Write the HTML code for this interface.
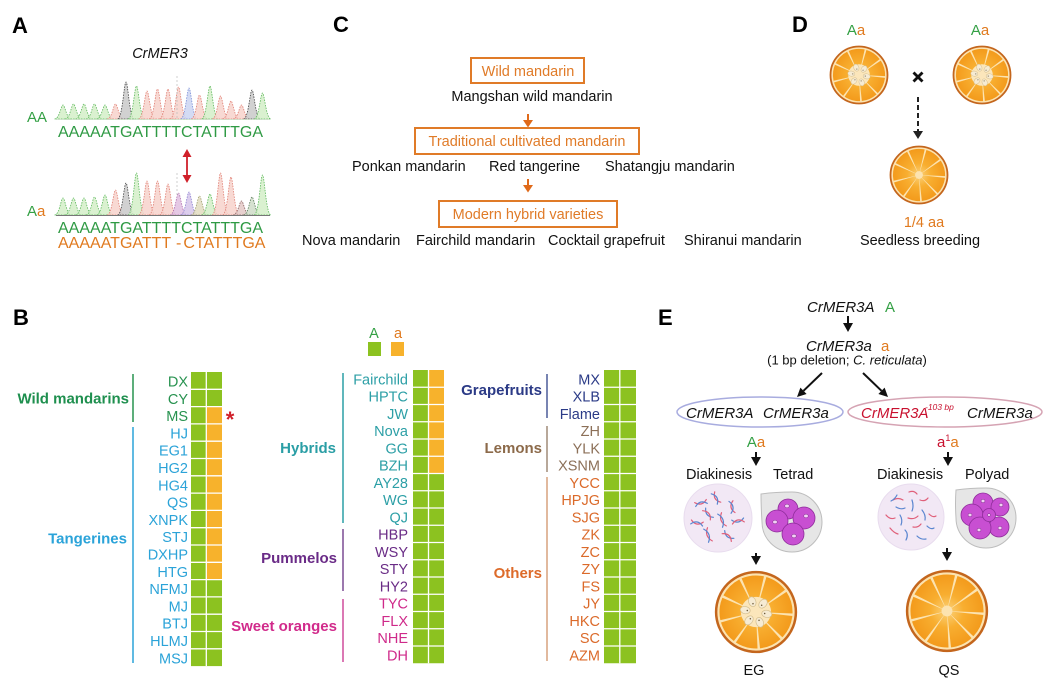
<!DOCTYPE html>
<html><head><meta charset="utf-8">
<style>
html,body{margin:0;padding:0;background:#fff;}
svg{display:block;font-family:"Liberation Sans",Arial,sans-serif;}
</style></head><body>
<svg width="1052" height="687" viewBox="0 0 1052 687" xmlns="http://www.w3.org/2000/svg">
<defs>
 <radialGradient id="wg" gradientUnits="userSpaceOnUse" cx="0" cy="0" r="44">
  <stop offset="0" stop-color="#fbd37c"/>
  <stop offset="0.45" stop-color="#f8ae30"/>
  <stop offset="1" stop-color="#f39a1b"/>
 </radialGradient>
 <symbol id="orn" viewBox="-50 -50 100 100">
  <circle r="47.5" fill="#fce3b0" stroke="#c4661d" stroke-width="3"/>
  <circle r="25" fill="none" stroke="url(#wg)" stroke-width="37" pathLength="360" stroke-dasharray="36 4" transform="rotate(8)"/>
  <circle r="4" fill="#fce3b0"/>
 </symbol>
 <symbol id="ors" viewBox="-50 -50 100 100">
  <circle r="47.5" fill="#fce3b0" stroke="#c4661d" stroke-width="3"/>
  <circle r="25" fill="none" stroke="url(#wg)" stroke-width="37" pathLength="360" stroke-dasharray="36 4" transform="rotate(8)"/>
  <circle r="18" fill="#fbe6bb"/>
  <g fill="#f6ebd3" stroke="#d3bd8c" stroke-width="0.8">
   <ellipse rx="6" ry="4.3" transform="rotate(10) translate(13 0)"/>
   <ellipse rx="6" ry="4.3" transform="rotate(70) translate(13 0)"/>
   <ellipse rx="6" ry="4.3" transform="rotate(130) translate(13 0)"/>
   <ellipse rx="6" ry="4.3" transform="rotate(190) translate(13 0)"/>
   <ellipse rx="6" ry="4.3" transform="rotate(250) translate(13 0)"/>
   <ellipse rx="6" ry="4.3" transform="rotate(310) translate(13 0)"/>
  </g>
  <g fill="#6b5a3a">
   <circle r="0.9" transform="rotate(10) translate(10.5 0)"/>
   <circle r="0.9" transform="rotate(70) translate(10.5 0)"/>
   <circle r="0.9" transform="rotate(130) translate(10.5 0)"/>
   <circle r="0.9" transform="rotate(190) translate(10.5 0)"/>
   <circle r="0.9" transform="rotate(250) translate(10.5 0)"/>
   <circle r="0.9" transform="rotate(310) translate(10.5 0)"/>
  </g>
 </symbol>
</defs>

<!-- ================= Panel A ================= -->
<text x="12" y="33" font-size="22" font-weight="bold" fill="#000">A</text>
<text x="160" y="58" font-size="14.5" font-style="italic" text-anchor="middle" fill="#111">CrMER3</text>

<!-- top chromatogram -->
<g stroke-width="0.8" stroke-dasharray="1.5 1.2" fill-opacity="0.85">
<path d="M54.5,119 C59.5,119 61,105 63,105 C65,105 66.5,119 71.5,119Z" fill="#d4efc8" stroke="#5cb85c"/>
<path d="M65,119 C70,119 71.5,104 73.5,104 C75.5,104 77,119 82,119Z" fill="#d4efc8" stroke="#5cb85c"/>
<path d="M75.5,119 C80.5,119 82,104 84,104 C86,104 87.5,119 92.5,119Z" fill="#d4efc8" stroke="#5cb85c"/>
<path d="M86,119 C91,119 92.5,104 94.5,104 C96.5,104 98,119 103,119Z" fill="#d4efc8" stroke="#5cb85c"/>
<path d="M96.5,119 C101.5,119 103,105 105,105 C107,105 108.5,119 113.5,119Z" fill="#d4efc8" stroke="#5cb85c"/>
<path d="M107,119 C112,119 113.5,104 115.5,104 C117.5,104 119,119 124,119Z" fill="#f7d2cb" stroke="#e07f74"/>
<path d="M117.5,119 C122.5,119 124,82 126,82 C128,82 129.5,119 134.5,119Z" fill="#c9c9c9" stroke="#444"/>
<path d="M128,119 C133,119 134.5,86 136.5,86 C138.5,86 140,119 145,119Z" fill="#d4efc8" stroke="#5cb85c"/>
<path d="M138.5,119 C143.5,119 145,91 147,91 C149,91 150.5,119 155.5,119Z" fill="#f7d2cb" stroke="#e07f74"/>
<path d="M149,119 C154,119 155.5,89 157.5,89 C159.5,89 161,119 166,119Z" fill="#f7d2cb" stroke="#e07f74"/>
<path d="M159.5,119 C164.5,119 166,89 168,89 C170,89 171.5,119 176.5,119Z" fill="#f7d2cb" stroke="#e07f74"/>
<path d="M170,119 C175,119 176.5,87 178.5,87 C180.5,87 182,119 187,119Z" fill="#f7d2cb" stroke="#e07f74"/>
<path d="M180.5,119 C185.5,119 187,88 189,88 C191,88 192.5,119 197.5,119Z" fill="#cbd5f2" stroke="#7b8fd6"/>
<path d="M191,119 C196,119 197.5,95 199.5,95 C201.5,95 203,119 208,119Z" fill="#f7d2cb" stroke="#e07f74"/>
<path d="M201.5,119 C206.5,119 208,86 210,86 C212,86 213.5,119 218.5,119Z" fill="#d4efc8" stroke="#5cb85c"/>
<path d="M212,119 C217,119 218.5,96 220.5,96 C222.5,96 224,119 229,119Z" fill="#f7d2cb" stroke="#e07f74"/>
<path d="M222.5,119 C227.5,119 229,101 231,101 C233,101 234.5,119 239.5,119Z" fill="#f7d2cb" stroke="#e07f74"/>
<path d="M233,119 C238,119 239.5,105 241.5,105 C243.5,105 245,119 250,119Z" fill="#f7d2cb" stroke="#e07f74"/>
<path d="M243.5,119 C248.5,119 250,90 252,90 C254,90 255.5,119 260.5,119Z" fill="#c9c9c9" stroke="#444"/>
<path d="M254,119 C259,119 260.5,93 262.5,93 C264.5,93 266,119 271,119Z" fill="#d4efc8" stroke="#5cb85c"/>
</g>
<line x1="177" y1="76" x2="177" y2="118" stroke="#bbb" stroke-width="0.7" stroke-dasharray="2 2"/>
<line x1="56" y1="119.5" x2="270" y2="119.5" stroke="#c9dfc4" stroke-width="0.8"/>
<text x="27" y="122" font-size="15" fill="#34a045">AA</text>
<text x="58" y="137" font-size="16" fill="#2f9a44">AAAAATGATTTTCTATTTGA</text>

<!-- red arrow -->
<line x1="187" y1="155" x2="187" y2="177" stroke="#d0202a" stroke-width="1.8"/>
<polygon points="182.5,157 191.5,157 187,149" fill="#d0202a"/>
<polygon points="182.5,175 191.5,175 187,183" fill="#d0202a"/>

<!-- bottom chromatogram -->
<g stroke-width="0.8" stroke-dasharray="1.5 1.2" fill-opacity="0.85">
<path d="M54.5,215 C59.5,215 61,198 63,198 C65,198 66.5,215 71.5,215Z" fill="#d4efc8" stroke="#5cb85c"/>
<path d="M65,215 C70,215 71.5,198 73.5,198 C75.5,198 77,215 82,215Z" fill="#d4efc8" stroke="#5cb85c"/>
<path d="M75.5,215 C80.5,215 82,198 84,198 C86,198 87.5,215 92.5,215Z" fill="#d4efc8" stroke="#5cb85c"/>
<path d="M86,215 C91,215 92.5,197 94.5,197 C96.5,197 98,215 103,215Z" fill="#d4efc8" stroke="#5cb85c"/>
<path d="M96.5,215 C101.5,215 103,195 105,195 C107,195 108.5,215 113.5,215Z" fill="#d4efc8" stroke="#5cb85c"/>
<path d="M107,215 C112,215 113.5,190 115.5,190 C117.5,190 119,215 124,215Z" fill="#f7d2cb" stroke="#e07f74"/>
<path d="M117.5,215 C122.5,215 124,183 126,183 C128,183 129.5,215 134.5,215Z" fill="#c9c9c9" stroke="#444"/>
<path d="M128,215 C133,215 134.5,173 136.5,173 C138.5,173 140,215 145,215Z" fill="#d4efc8" stroke="#5cb85c"/>
<path d="M138.5,215 C143.5,215 145,181 147,181 C149,181 150.5,215 155.5,215Z" fill="#f7d2cb" stroke="#e07f74"/>
<path d="M149,215 C154,215 155.5,181 157.5,181 C159.5,181 161,215 166,215Z" fill="#f7d2cb" stroke="#e07f74"/>
<path d="M159.5,215 C164.5,215 166,184 168,184 C170,184 171.5,215 176.5,215Z" fill="#f7d2cb" stroke="#e07f74"/>
<path d="M170,215 C175,215 176.5,193 178.5,193 C180.5,193 182,215 187,215Z" fill="#e0c0e0" stroke="#b070b0"/>
<path d="M180.5,215 C185.5,215 187,192 189,192 C191,192 192.5,215 197.5,215Z" fill="#d6c6ea" stroke="#8a7fd0"/>
<path d="M191,215 C196,215 197.5,196 199.5,196 C201.5,196 203,215 208,215Z" fill="#e2dcc0" stroke="#a0a070"/>
<path d="M201.5,215 C206.5,215 208,194 210,194 C212,194 213.5,215 218.5,215Z" fill="#d4efc8" stroke="#5cb85c"/>
<path d="M212,215 C217,215 218.5,173 220.5,173 C222.5,173 224,215 229,215Z" fill="#f7d2cb" stroke="#e07f74"/>
<path d="M222.5,215 C227.5,215 229,177 231,177 C233,177 234.5,215 239.5,215Z" fill="#f7d2cb" stroke="#e07f74"/>
<path d="M233,215 C238,215 239.5,201 241.5,201 C243.5,201 245,215 250,215Z" fill="#e3c8c6" stroke="#8a6060"/>
<path d="M243.5,215 C248.5,215 250,197 252,197 C254,197 255.5,215 260.5,215Z" fill="#cfdcc8" stroke="#557755"/>
<path d="M254,215 C259,215 260.5,175 262.5,175 C264.5,175 266,215 271,215Z" fill="#d4efc8" stroke="#5cb85c"/>
</g>
<line x1="177" y1="173" x2="177" y2="197" stroke="#bbb" stroke-width="0.7" stroke-dasharray="2 2"/>
<line x1="56" y1="215.5" x2="270" y2="215.5" stroke="#777" stroke-width="1"/>
<text x="27" y="216" font-size="15"><tspan fill="#34a045">A</tspan><tspan fill="#e07a1f">a</tspan></text>
<text x="58" y="233" font-size="16" fill="#2f9a44">AAAAATGATTTTCTATTTGA</text>
<text x="58" y="248" font-size="16" fill="#e07a1f">AAAAATGATTT</text>
<text x="176" y="248" font-size="16" fill="#e07a1f">-</text>
<text x="183.4" y="248" font-size="16" fill="#e07a1f">CTATTTGA</text>

<!-- ================= Panel C ================= -->
<text x="333" y="32" font-size="22" font-weight="bold" fill="#000">C</text>
<rect x="471" y="58" width="113" height="25" fill="none" stroke="#e07b28" stroke-width="2"/>
<text x="528" y="76" font-size="14.5" text-anchor="middle" fill="#e07b28">Wild mandarin</text>
<text x="532" y="101" font-size="14.5" text-anchor="middle" fill="#111">Mangshan wild mandarin</text>
<line x1="528" y1="114" x2="528" y2="121" stroke="#e06a1a" stroke-width="2"/>
<polygon points="523,120 533,120 528,127.5" fill="#e06a1a"/>
<rect x="415" y="128" width="224" height="26" fill="none" stroke="#e07b28" stroke-width="2"/>
<text x="527" y="146" font-size="14.5" text-anchor="middle" fill="#e07b28">Traditional cultivated mandarin</text>
<text x="352" y="171" font-size="14.5" fill="#111">Ponkan mandarin</text>
<text x="489" y="171" font-size="14.5" fill="#111">Red tangerine</text>
<text x="605" y="171" font-size="14.5" fill="#111">Shatangju mandarin</text>
<line x1="528" y1="179" x2="528" y2="186" stroke="#e06a1a" stroke-width="2"/>
<polygon points="523,185 533,185 528,192.5" fill="#e06a1a"/>
<rect x="439" y="201" width="178" height="26" fill="none" stroke="#e07b28" stroke-width="2"/>
<text x="528" y="219" font-size="14.5" text-anchor="middle" fill="#e07b28">Modern hybrid varieties</text>
<text x="302" y="245" font-size="14.5" fill="#111">Nova mandarin</text>
<text x="416" y="245" font-size="14.5" fill="#111">Fairchild mandarin</text>
<text x="548" y="245" font-size="14.5" fill="#111">Cocktail grapefruit</text>
<text x="684" y="245" font-size="14.5" fill="#111">Shiranui mandarin</text>

<!-- ================= Panel D ================= -->
<text x="792" y="32" font-size="22" font-weight="bold" fill="#000">D</text>
<text x="856" y="35" font-size="15" text-anchor="middle"><tspan fill="#34a045">A</tspan><tspan fill="#e07a1f">a</tspan></text>
<text x="980" y="35" font-size="15" text-anchor="middle"><tspan fill="#34a045">A</tspan><tspan fill="#e07a1f">a</tspan></text>
<use href="#ors" x="829" y="45" width="60" height="60"/>
<use href="#ors" x="952" y="45" width="60" height="60"/>
<line x1="913.5" y1="72.5" x2="922.5" y2="81.5" stroke="#111" stroke-width="2.8"/>
<line x1="922.5" y1="72.5" x2="913.5" y2="81.5" stroke="#111" stroke-width="2.8"/>
<line x1="918" y1="97" x2="918" y2="132" stroke="#222" stroke-width="2" stroke-dasharray="5 3"/>
<polygon points="913,131 923,131 918,139" fill="#222"/>
<use href="#orn" x="889" y="145" width="60" height="60"/>
<text x="924" y="227" font-size="14.5" text-anchor="middle" fill="#e07a1f">1/4 aa</text>
<text x="920" y="245" font-size="14.5" text-anchor="middle" fill="#111">Seedless breeding</text>

<!-- ================= Panel B ================= -->
<text x="13" y="325" font-size="22" font-weight="bold" fill="#000">B</text>

<!-- legend -->
<text x="374" y="338" font-size="14.5" text-anchor="middle" fill="#34a045">A</text>
<text x="398" y="338" font-size="14.5" text-anchor="middle" fill="#e07a1f">a</text>
<rect x="368" y="342" width="13" height="14" fill="#8cc220"/>
<rect x="391" y="342" width="13" height="14" fill="#f7b22c"/>

<!-- left grid -->
<rect x="191" y="372" width="31" height="294.1" fill="#8cc220"/>
<rect x="206.5" y="406.6" width="15.5" height="173" fill="#f7b22c"/>
<path d="M191,389.3H222M191,406.6H222M191,423.9H222M191,441.2H222M191,458.5H222M191,475.8H222M191,493.1H222M191,510.4H222M191,527.7H222M191,545H222M191,562.3H222M191,579.6H222M191,596.9H222M191,614.2H222M191,631.5H222M191,648.8H222M206.3,372V666.1" stroke="#fff" stroke-width="1.3" fill="none"/>

<!-- middle grid -->
<rect x="413" y="370" width="31" height="293.25" fill="#8cc220"/>
<rect x="428.6" y="370" width="15.4" height="103.5" fill="#f7b22c"/>
<path d="M413,387.25H444M413,404.5H444M413,421.75H444M413,439H444M413,456.25H444M413,473.5H444M413,490.75H444M413,508H444M413,525.25H444M413,542.5H444M413,559.75H444M413,577H444M413,594.25H444M413,611.5H444M413,628.75H444M413,646H444M428.5,370V663.25" stroke="#fff" stroke-width="1.3" fill="none"/>

<!-- right grid -->
<rect x="604" y="370" width="32" height="293.25" fill="#8cc220"/>
<path d="M604,387.25H636M604,404.5H636M604,421.75H636M604,439H636M604,456.25H636M604,473.5H636M604,490.75H636M604,508H636M604,525.25H636M604,542.5H636M604,559.75H636M604,577H636M604,594.25H636M604,611.5H636M604,628.75H636M604,646H636M619.8,370V663.25" stroke="#fff" stroke-width="1.3" fill="none"/>

<!-- left labels -->
<g font-size="14.5" text-anchor="end">
<g fill="#27924f">
<text x="188" y="386.5">DX</text>
<text x="188" y="403.8">CY</text>
<text x="188" y="421.1">MS</text>
</g>
<g fill="#2ba3d8">
<text x="188" y="438.4">HJ</text>
<text x="188" y="455.7">EG1</text>
<text x="188" y="473">HG2</text>
<text x="188" y="490.3">HG4</text>
<text x="188" y="507.6">QS</text>
<text x="188" y="524.9">XNPK</text>
<text x="188" y="542.2">STJ</text>
<text x="188" y="559.5">DXHP</text>
<text x="188" y="576.8">HTG</text>
<text x="188" y="594.1">NFMJ</text>
<text x="188" y="611.4">MJ</text>
<text x="188" y="628.7">BTJ</text>
<text x="188" y="646">HLMJ</text>
<text x="188" y="663.3">MSJ</text>
</g>
<!-- middle labels -->
<g fill="#2c9fa6">
<text x="408" y="384.4">Fairchild</text>
<text x="408" y="401.65">HPTC</text>
<text x="408" y="418.9">JW</text>
<text x="408" y="436.15">Nova</text>
<text x="408" y="453.4">GG</text>
<text x="408" y="470.65">BZH</text>
<text x="408" y="487.9">AY28</text>
<text x="408" y="505.15">WG</text>
<text x="408" y="522.4">QJ</text>
</g>
<g fill="#6a2c86">
<text x="408" y="539.65">HBP</text>
<text x="408" y="556.9">WSY</text>
<text x="408" y="574.15">STY</text>
<text x="408" y="591.4">HY2</text>
</g>
<g fill="#cf2a8a">
<text x="408" y="608.65">TYC</text>
<text x="408" y="625.9">FLX</text>
<text x="408" y="643.15">NHE</text>
<text x="408" y="660.4">DH</text>
</g>
<!-- right labels -->
<g fill="#2b3b87">
<text x="600" y="384.4">MX</text>
<text x="600" y="401.65">XLB</text>
<text x="600" y="418.9">Flame</text>
</g>
<g fill="#8c7058">
<text x="600" y="436.15">ZH</text>
<text x="600" y="453.4">YLK</text>
<text x="600" y="470.65">XSNM</text>
</g>
<g fill="#db6a2a">
<text x="600" y="487.9">YCC</text>
<text x="600" y="505.15">HPJG</text>
<text x="600" y="522.4">SJG</text>
<text x="600" y="539.65">ZK</text>
<text x="600" y="556.9">ZC</text>
<text x="600" y="574.15">ZY</text>
<text x="600" y="591.4">FS</text>
<text x="600" y="608.65">JY</text>
<text x="600" y="625.9">HKC</text>
<text x="600" y="643.15">SC</text>
<text x="600" y="660.4">AZM</text>
</g>
</g>

<!-- brackets -->
<g stroke-width="1.5">
<line x1="133" y1="374" x2="133" y2="422" stroke="#27924f"/>
<line x1="133" y1="427" x2="133" y2="663" stroke="#2ba3d8"/>
<line x1="343" y1="373" x2="343" y2="523" stroke="#2c9fa6"/>
<line x1="343" y1="529" x2="343" y2="591" stroke="#7a4a93"/>
<line x1="343" y1="599" x2="343" y2="662" stroke="#cf4a9a"/>
<line x1="547" y1="374" x2="547" y2="418" stroke="#4b5a98"/>
<line x1="547" y1="426" x2="547" y2="472" stroke="#a08a78"/>
<line x1="547" y1="477" x2="547" y2="661" stroke="#d7a27e"/>
</g>

<!-- category labels -->
<g font-size="15" font-weight="bold" text-anchor="end">
<text x="129" y="403.5" fill="#1e8f4e">Wild mandarins</text>
<text x="127" y="543.5" fill="#2aa3d9">Tangerines</text>
<text x="336" y="453" fill="#2a9ea5">Hybrids</text>
<text x="337" y="563" fill="#6a2b87">Pummelos</text>
<text x="337" y="631" fill="#d12a8b">Sweet oranges</text>
<text x="542" y="395" fill="#2b3a86">Grapefruits</text>
<text x="542" y="453" fill="#8c6a4a">Lemons</text>
<text x="542" y="578" fill="#dd6b2a">Others</text>
</g>
<text x="230" y="427" font-size="22" font-weight="bold" text-anchor="middle" fill="#d0202a">*</text>

<!-- ================= Panel E ================= -->
<text x="658" y="325" font-size="22" font-weight="bold" fill="#000">E</text>
<text x="807" y="312" font-size="15" font-style="italic" fill="#111">CrMER3A</text>
<text x="885" y="312" font-size="15" fill="#34a045">A</text>
<line x1="848" y1="316" x2="848" y2="324" stroke="#111" stroke-width="2"/>
<polygon points="843,323 853,323 848,332" fill="#111"/>
<text x="806" y="351" font-size="15" font-style="italic" fill="#111">CrMER3a</text>
<text x="881" y="351" font-size="15" fill="#e07a1f">a</text>
<text x="847" y="364.5" font-size="13" text-anchor="middle" fill="#111">(1 bp deletion; <tspan font-style="italic">C. reticulata</tspan>)</text>

<line x1="822" y1="373" x2="803.5" y2="390.8" stroke="#111" stroke-width="2"/>
<polygon points="797,397 806.6,394 800.4,387.6" fill="#111"/>
<line x1="863" y1="373" x2="881.5" y2="390.8" stroke="#111" stroke-width="2"/>
<polygon points="888,397 878.4,394 884.6,387.6" fill="#111"/>

<ellipse cx="760" cy="412" rx="83" ry="15" fill="none" stroke="#a8acdf" stroke-width="1.5"/>
<ellipse cx="945" cy="412" rx="97" ry="15" fill="none" stroke="#d5a3b3" stroke-width="1.5"/>
<text x="686" y="418" font-size="15" font-style="italic" fill="#111">CrMER3A</text>
<text x="763" y="418" font-size="15" font-style="italic" fill="#111">CrMER3a</text>
<text x="861" y="418" font-size="15" font-style="italic" fill="#c8102e">CrMER3A</text>
<text x="925" y="410" font-size="8.5" font-style="italic" fill="#c8102e">-103 bp</text>
<text x="967" y="418" font-size="15" font-style="italic" fill="#111">CrMER3a</text>

<text x="756" y="447" font-size="15" text-anchor="middle"><tspan fill="#34a045">A</tspan><tspan fill="#e07a1f">a</tspan></text>
<text x="937" y="447" font-size="15"><tspan fill="#c8102e">a</tspan><tspan fill="#c8102e" font-size="9" dy="-6">1</tspan><tspan fill="#e07a1f" dy="6">a</tspan></text>

<line x1="756" y1="452" x2="756" y2="458" stroke="#111" stroke-width="2"/>
<polygon points="751,457 761,457 756,466" fill="#111"/>
<line x1="948" y1="452" x2="948" y2="458" stroke="#111" stroke-width="2"/>
<polygon points="943,457 953,457 948,466" fill="#111"/>

<text x="686" y="479" font-size="14.5" fill="#111">Diakinesis</text>
<text x="773" y="479" font-size="14.5" fill="#111">Tetrad</text>
<text x="877" y="479" font-size="14.5" fill="#111">Diakinesis</text>
<text x="965" y="479" font-size="14.5" fill="#111">Polyad</text>

<!-- left diakinesis (bivalents) -->
<circle cx="718" cy="518" r="34" fill="#f2e8f5" stroke="#e8dcee" stroke-width="1"/>
<g transform="translate(718 518)" fill="none" stroke-width="1.2" stroke-linecap="round">
 <g transform="translate(-17 -15) rotate(-15)"><path d="M-6,-2 Q0,4 6,-2" stroke="#e0607a"/><path d="M-6,2 Q0,-4 6,2" stroke="#5a86d0"/></g>
 <g transform="translate(-2 -20) rotate(60)"><path d="M-6,-2 Q0,4 6,-2" stroke="#e0607a"/><path d="M-6,2 Q0,-4 6,2" stroke="#5a86d0"/></g>
 <g transform="translate(14 -11) rotate(80)"><path d="M-6,-2 Q0,4 6,-2" stroke="#e0607a"/><path d="M-6,2 Q0,-4 6,2" stroke="#5a86d0"/></g>
 <g transform="translate(-10 -4) rotate(50)"><path d="M-6,-2 Q0,4 6,-2" stroke="#5a86d0"/><path d="M-6,2 Q0,-4 6,2" stroke="#e0607a"/></g>
 <g transform="translate(4 2) rotate(70)"><path d="M-7,-2 Q0,4 7,-2" stroke="#e0607a"/><path d="M-7,2 Q0,-4 7,2" stroke="#5a86d0"/></g>
 <g transform="translate(-21 5) rotate(10)"><path d="M-6,-2 Q0,4 6,-2" stroke="#e0607a"/><path d="M-6,2 Q0,-4 6,2" stroke="#5a86d0"/></g>
 <g transform="translate(20 3) rotate(-10)"><path d="M-6,-2 Q0,4 6,-2" stroke="#5a86d0"/><path d="M-6,2 Q0,-4 6,2" stroke="#e0607a"/></g>
 <g transform="translate(-10 17) rotate(70)"><path d="M-7,-2 Q0,4 7,-2" stroke="#e0607a"/><path d="M-7,2 Q0,-4 7,2" stroke="#5a86d0"/></g>
 <g transform="translate(10 18) rotate(40)"><path d="M-6,-2 Q0,4 6,-2" stroke="#5a86d0"/><path d="M-6,2 Q0,-4 6,2" stroke="#e0607a"/></g>
</g>

<!-- tetrad -->
<path d="M761,494 Q775,492 792,492 A30,30 0 1 1 762,522 Q761,506 761,494 Z" fill="#e6e6e6" stroke="#bdbdbd" stroke-width="1"/>
<g fill="#c84fd2" stroke="#8e2c9a" stroke-width="0.8">
 <circle cx="788" cy="509" r="10"/>
 <circle cx="777" cy="521" r="11"/>
 <circle cx="804" cy="518" r="11"/>
 <circle cx="793" cy="534" r="11"/>
</g>
<g fill="#f3d0f5" stroke="#7a2a86" stroke-width="0.5">
 <ellipse cx="787" cy="506" rx="2.2" ry="1.8"/>
 <ellipse cx="775" cy="522" rx="2.2" ry="1.8"/>
 <ellipse cx="806" cy="516" rx="2.2" ry="1.8"/>
 <ellipse cx="794" cy="536" rx="2.2" ry="1.8"/>
</g>

<!-- right diakinesis (univalents) -->
<circle cx="911" cy="517" r="33" fill="#f2e8f5" stroke="#e8dcee" stroke-width="1"/>
<g fill="none" stroke-width="1.2" stroke-linecap="round">
 <path d="M893,500 Q898,497 903,500" stroke="#e0607a"/>
 <path d="M909,492 Q914,490 917,494" stroke="#e0607a"/>
 <path d="M896,507 Q901,510 905,508" stroke="#5a86d0"/>
 <path d="M912,500 Q914,506 912,511" stroke="#5a86d0"/>
 <path d="M920,500 Q925,502 928,498" stroke="#e0607a"/>
 <path d="M886,515 Q890,520 895,518" stroke="#e0607a"/>
 <path d="M900,515 Q903,520 901,525" stroke="#5a86d0"/>
 <path d="M908,518 Q914,520 918,516" stroke="#e0607a"/>
 <path d="M922,510 Q926,515 925,520" stroke="#5a86d0"/>
 <path d="M929,514 Q933,518 936,516" stroke="#e0607a"/>
 <path d="M890,528 Q894,533 898,534" stroke="#e0607a"/>
 <path d="M905,530 Q909,534 906,540" stroke="#5a86d0"/>
 <path d="M913,527 Q918,528 921,524" stroke="#e0607a"/>
 <path d="M917,536 Q921,540 926,539" stroke="#5a86d0"/>
 <path d="M927,526 Q931,530 934,528" stroke="#5a86d0"/>
 <path d="M897,495 Q895,499 891,501" stroke="#5a86d0"/>
</g>

<!-- polyad -->
<path d="M956,490 Q970,488 986,488 A30,30 0 1 1 956,518 Q955,503 956,490 Z" fill="#e6e6e6" stroke="#bdbdbd" stroke-width="1"/>
<g fill="#c84fd2" stroke="#8e2c9a" stroke-width="0.8">
 <circle cx="983" cy="503" r="10"/>
 <circle cx="1000" cy="507" r="9"/>
 <circle cx="972" cy="515" r="11"/>
 <circle cx="999" cy="527" r="10"/>
 <circle cx="980" cy="528" r="11"/>
 <circle cx="989" cy="515" r="6.5"/>
</g>
<g fill="#f3d0f5" stroke="#7a2a86" stroke-width="0.5">
 <ellipse cx="983" cy="501" rx="2" ry="1.7"/>
 <ellipse cx="1001" cy="505" rx="2" ry="1.7"/>
 <ellipse cx="970" cy="515" rx="2" ry="1.7"/>
 <ellipse cx="1000" cy="528" rx="2" ry="1.7"/>
 <ellipse cx="979" cy="530" rx="2" ry="1.7"/>
 <ellipse cx="989" cy="515" rx="1.6" ry="1.3"/>
</g>

<line x1="756" y1="553" x2="756" y2="557" stroke="#111" stroke-width="2"/>
<polygon points="751,556 761,556 756,565" fill="#111"/>
<line x1="947" y1="548" x2="947" y2="553" stroke="#111" stroke-width="2"/>
<polygon points="942,552 952,552 947,561" fill="#111"/>

<use href="#ors" x="714" y="570" width="84" height="84"/>
<use href="#orn" x="905" y="569" width="84" height="84"/>
<text x="754" y="675" font-size="14.5" text-anchor="middle" fill="#111">EG</text>
<text x="949" y="675" font-size="14.5" text-anchor="middle" fill="#111">QS</text>
</svg>
</body></html>
